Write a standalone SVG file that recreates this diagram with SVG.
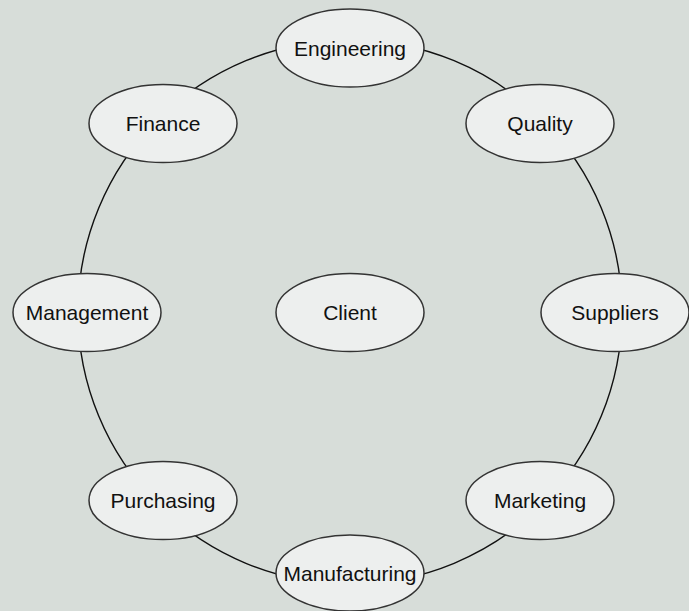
<svg xmlns="http://www.w3.org/2000/svg" width="689" height="611" viewBox="0 0 689 611">
<style>
.bg{fill:#d7ddd9}
.edge{fill:none;stroke:#111;stroke-width:1.4}
.node ellipse{fill:#edefee;stroke:#333;stroke-width:1.5}
.node text{font-family:"Liberation Sans",Arial,sans-serif;font-size:21px;fill:#111;text-anchor:middle}
</style>
<rect class="bg" x="0" y="0" width="689" height="611"/>
<g id="connectors">
<path class="edge" d="M350 40 A272 272 0 0 1 542.3 119.7"/>
<path class="edge" d="M542.3 119.7 A272 272 0 0 1 622 312"/>
<path class="edge" d="M622 312 A272 272 0 0 1 542.3 504.3"/>
<path class="edge" d="M542.3 504.3 A272 272 0 0 1 350 584"/>
<path class="edge" d="M350 584 A272 272 0 0 1 157.7 504.3"/>
<path class="edge" d="M157.7 504.3 A272 272 0 0 1 78 312"/>
<path class="edge" d="M78 312 A272 272 0 0 1 157.7 119.7"/>
<path class="edge" d="M157.7 119.7 A272 272 0 0 1 350 40"/>
</g>
<g id="engineering" class="node"><ellipse cx="350" cy="48" rx="74" ry="39"/><text x="350" y="56">Engineering</text></g>
<g id="quality" class="node"><ellipse cx="540" cy="123.5" rx="74" ry="39"/><text x="540" y="131">Quality</text></g>
<g id="suppliers" class="node"><ellipse cx="615" cy="312.5" rx="74" ry="39"/><text x="615" y="320">Suppliers</text></g>
<g id="marketing" class="node"><ellipse cx="540" cy="500.5" rx="74" ry="39"/><text x="540" y="508">Marketing</text></g>
<g id="manufacturing" class="node"><ellipse cx="350" cy="573" rx="74" ry="38"/><text x="350" y="581">Manufacturing</text></g>
<g id="purchasing" class="node"><ellipse cx="163" cy="500.5" rx="74" ry="39"/><text x="163" y="508">Purchasing</text></g>
<g id="management" class="node"><ellipse cx="87" cy="312.5" rx="74" ry="39"/><text x="87" y="320">Management</text></g>
<g id="finance" class="node"><ellipse cx="163" cy="123.5" rx="74" ry="39"/><text x="163" y="131">Finance</text></g>
<g id="client" class="node"><ellipse cx="350" cy="312.5" rx="74" ry="39"/><text x="350" y="320">Client</text></g>
</svg>
